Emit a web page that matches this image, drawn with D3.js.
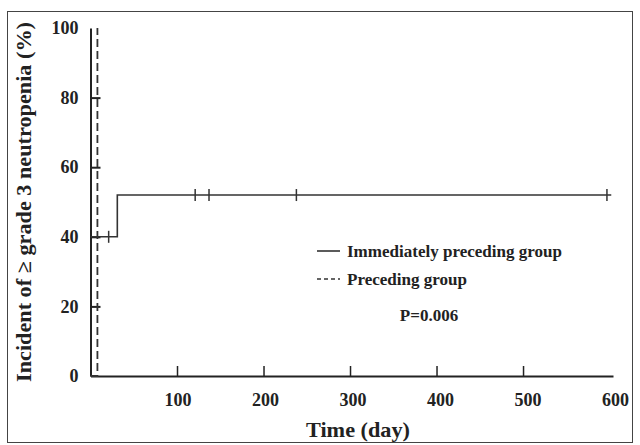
<!DOCTYPE html>
<html><head><meta charset="utf-8">
<script src="https://cdn.jsdelivr.net/npm/d3@7"></script>
<style>
html,body{margin:0;padding:0;background:#fff;}
svg text{font-family:"Liberation Serif","Times New Roman",serif;font-weight:bold;fill:#222;}
</style></head>
<body><svg id="c" width="640" height="445"></svg>
<script>
// ---- data ----
const yTicks = [0, 20, 40, 60, 80, 100];
const xTicks = [100, 200, 300, 400, 500, 600];
// step curve: Immediately preceding group (day, %)
const immDays   = [0, 31, 31, 602];
const immValues = [40, 40, 52, 52];
// censor marks for immediately preceding group
const immCensorDays   = [21, 121, 137, 238, 597];
const immCensorValues = [40, 52, 52, 52, 52];
// step curve: Preceding group
const preDays   = [0, 8, 8];
const preValues = [0, 0, 100];
const legendLabels = ["Immediately preceding group", "Preceding group"];
const pValue = "P=0.006";
const xTitle = "Time (day)";
const yTitle = "Incident of \u2265 grade 3 neutropenia (%)";

// ---- drawing ----
const svg = d3.select("#c");
const x = d3.scaleLinear().domain([0, 604]).range([90.5, 613]);
const xl = d3.scaleLinear().domain([100, 600]).range([178, 615.5]); // label placement
const y = d3.scaleLinear().domain([0, 100]).range([376, 28]);

// frame
svg.append("rect").attr("x", 7.5).attr("y", 11.5).attr("width", 625).attr("height", 431)
  .attr("fill", "none").attr("stroke", "#444").attr("stroke-width", 1);

// y axis
const ya = svg.append("g").attr("transform", `translate(${x(0)},0)`)
  .call(d3.axisLeft(y).tickValues(yTicks).tickSizeInner(-10).tickSizeOuter(0).tickPadding(12));
ya.select(".domain").attr("stroke", "#222").attr("stroke-width", 2);
ya.selectAll(".tick line").attr("stroke", "#222").attr("stroke-width", 2)
  .attr("display", d => (d === 0 || d === 100) ? "none" : null);
ya.selectAll(".tick text").attr("font-size", 18).attr("fill", "#222")
  .style("font-family", "'Liberation Serif',serif").style("font-weight", "bold");

// x axis
const xa = svg.append("g").attr("transform", `translate(0,${y(0)})`)
  .call(d3.axisBottom(x).tickValues(xTicks.filter(d => d < 600)).tickSizeInner(-10).tickSizeOuter(0).tickFormat(""));
xa.select(".domain").attr("stroke", "#222").attr("stroke-width", 2);
xa.selectAll(".tick line").attr("stroke", "#222").attr("stroke-width", 1.5);
svg.append("g").selectAll("text").data(xTicks).join("text")
  .attr("x", d => xl(d)).attr("y", y(0) + 30)
  .attr("text-anchor", "middle").attr("font-size", 18).text(d => d);

// curves
const line = d3.line().x(d => x(d[0])).y(d => y(d[1]));
svg.append("path").datum(immDays.map((d, i) => [d, immValues[i]]))
  .attr("d", line).attr("fill", "none").attr("stroke", "#333").attr("stroke-width", 1.6);
svg.append("path").datum(preDays.map((d, i) => [d, preValues[i]]))
  .attr("d", line).attr("fill", "none").attr("stroke", "#333").attr("stroke-width", 1.8)
  .attr("stroke-dasharray", "8,4");
svg.append("g").selectAll("line").data(immCensorDays).join("line")
  .attr("x1", d => x(d)).attr("x2", d => x(d))
  .attr("y1", (d, i) => y(immCensorValues[i]) - 6).attr("y2", (d, i) => y(immCensorValues[i]) + 6)
  .attr("stroke", "#333").attr("stroke-width", 1.5);

// legend
const lg = svg.append("g");
const dashes = [null, "4,3"];
const legendWidths = [215, 120];
legendLabels.forEach((lab, i) => {
  const yy = 251 + i * 28;
  lg.append("line").attr("x1", 317).attr("x2", 340).attr("y1", yy).attr("y2", yy)
    .attr("stroke", "#333").attr("stroke-width", 1.6).attr("stroke-dasharray", dashes[i]);
  lg.append("text").attr("x", 347).attr("y", yy + 6).attr("font-size", 17)
    .attr("textLength", legendWidths[i]).attr("lengthAdjust", "spacingAndGlyphs").text(lab);
});
svg.append("text").attr("x", 429).attr("y", 321).attr("text-anchor", "middle")
  .attr("font-size", 17).text(pValue);

// titles
svg.append("text").attr("x", 358).attr("y", 437).attr("text-anchor", "middle")
  .attr("font-size", 21).attr("textLength", 104).attr("lengthAdjust", "spacingAndGlyphs").text(xTitle);
svg.append("text").attr("transform", "translate(31,202) rotate(-90)")
  .attr("text-anchor", "middle").attr("font-size", 21)
  .attr("textLength", 360).attr("lengthAdjust", "spacingAndGlyphs").text(yTitle);
</script></body></html>
